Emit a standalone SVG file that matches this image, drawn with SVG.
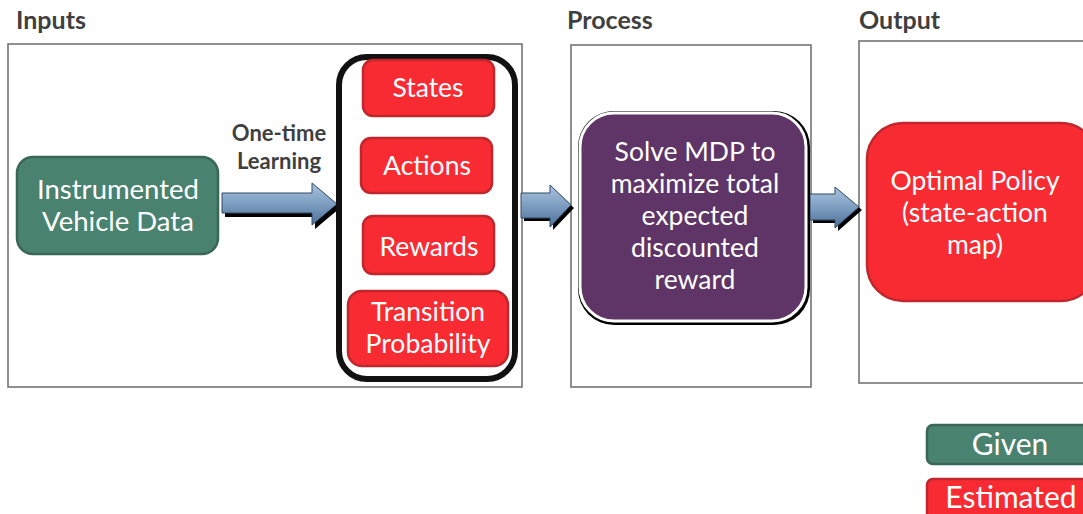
<svg xmlns="http://www.w3.org/2000/svg" width="1083" height="514" viewBox="0 0 1083 514">
<defs>
<linearGradient id="ag" x1="0" y1="0" x2="0" y2="1">
<stop offset="0" stop-color="#aac3de"/>
<stop offset="0.5" stop-color="#7d9dc0"/>
<stop offset="1" stop-color="#4f7198"/>
</linearGradient>
</defs>
<style>
.frame{fill:#fff;stroke:#6b6b6b;stroke-width:1.5}
.title{font-family:Lato,"Liberation Sans",sans-serif;font-weight:bold;font-size:25px;fill:#3f3f3f}
.lbl{font-family:Lato,"Liberation Sans",sans-serif;font-size:26.5px;fill:#fff;text-anchor:middle}
.big{font-size:27.5px}
.leg{font-size:30px}
.red{fill:#f82b33;stroke:#c0262c;stroke-width:2.5}
.green{fill:#4a8270;stroke:#3a6656;stroke-width:2.5}
.arrow{fill:url(#ag);stroke:#2f4a66;stroke-width:1}
.shadow{fill:#000}
.note{font-family:Lato,"Liberation Sans",sans-serif;font-weight:bold;font-size:22px;fill:#3f3f3f;text-anchor:middle}
</style>
<rect width="1083" height="514" fill="#fff"/>
<g id="frames">
<rect class="frame" x="8" y="44" width="514" height="343"/>
<rect class="frame" x="571" y="45" width="240" height="342"/>
<rect class="frame" x="859" y="41" width="240" height="342"/>
<text class="title" x="16" y="29">Inputs</text>
<text class="title" x="567" y="29">Process</text>
<text class="title" x="859" y="29">Output</text>
</g>
<g id="connectors">
<path class="shadow" d="M225,196 H315 V186 L340,208 L315,229 V217 H225 Z"/>
<path class="arrow" d="M222,193 H312 V183 L337,204 L312,225 V213 H222 Z"/>
<text class="note" x="279" y="141">One-time</text>
<text class="note" x="279" y="169">Learning</text>
<path class="shadow" d="M524,196 H553 V188 L574,208 L553,230 V221 H524 Z"/>
<path class="arrow" d="M521,193 H550 V185 L571,205 L550,227 V218 H521 Z"/>
<path class="shadow" d="M813,197 H838 V190 L862,210 L838,231 V223 H813 Z"/>
<path class="arrow" d="M810,194 H835 V187 L859,207 L835,228 V220 H810 Z"/>
</g>
<g id="instrumented">
<rect class="green" x="17" y="157" width="201" height="97" rx="16"/>
<text class="lbl big" x="118" y="199">Instrumented</text>
<text class="lbl big" x="118" y="231">Vehicle Data</text>
</g>
<g id="container">
<rect x="339" y="57" width="176" height="322" rx="28" fill="#fff" stroke="#111" stroke-width="6"/>
</g>
<g id="states">
<rect class="red" x="363" y="60" width="131" height="56" rx="10"/>
<text class="lbl" x="428" y="97">States</text>
</g>
<g id="actions">
<rect class="red" x="361" y="138" width="131" height="55" rx="10"/>
<text class="lbl" x="427" y="175">Actions</text>
</g>
<g id="rewards">
<rect class="red" x="363" y="216" width="131" height="58" rx="10"/>
<text class="lbl" x="429" y="256">Rewards</text>
</g>
<g id="transition">
<rect class="red" x="348" y="291" width="160" height="75" rx="14"/>
<text class="lbl" x="428" y="321">Transition</text>
<text class="lbl" x="428" y="353">Probability</text>
</g>
<g id="solve">
<rect x="578" y="111" width="232" height="214" rx="36" fill="#000"/>
<rect x="580" y="113" width="226" height="208" rx="34" fill="#5e3566" stroke="#fff" stroke-width="3"/>
<text class="lbl" x="695" y="161">Solve MDP to</text>
<text class="lbl" x="695" y="193">maximize total</text>
<text class="lbl" x="695" y="225">expected</text>
<text class="lbl" x="695" y="257">discounted</text>
<text class="lbl" x="695" y="289">reward</text>
</g>
<g id="policy">
<rect class="red" x="867" y="123" width="230" height="178" rx="36"/>
<text class="lbl" x="975" y="190">Optimal Policy</text>
<text class="lbl" x="975" y="222">(state-action</text>
<text class="lbl" x="975" y="254">map)</text>
</g>
<g id="legend-given">
<rect class="green" x="927" y="425" width="170" height="39" rx="6"/>
<text class="lbl leg" x="1010" y="455">Given</text>
</g>
<g id="legend-estimated">
<rect class="red" x="927" y="479" width="170" height="45" rx="6"/>
<text class="lbl leg" x="1011" y="508">Estimated</text>
</g>
</svg>
